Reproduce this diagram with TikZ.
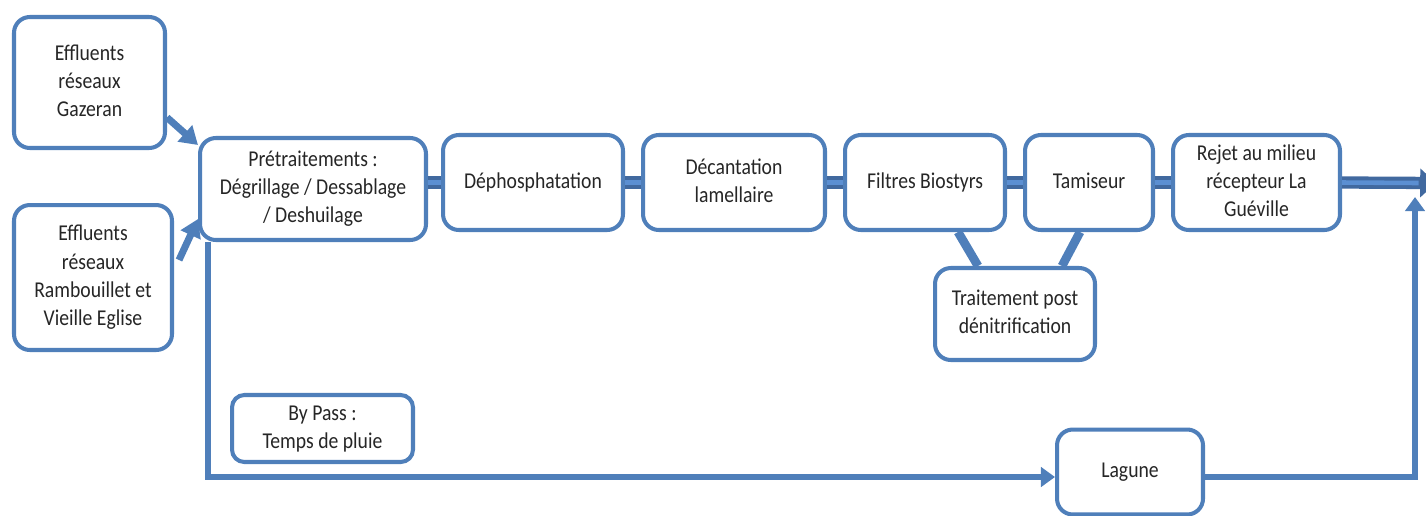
\documentclass[tikz,border=0pt]{standalone}
\usepackage{fontspec}
\setmainfont{Carlito}
\usetikzlibrary{arrows.meta,calc}
\definecolor{bord}{HTML}{4F7FBA}
\definecolor{banddark}{HTML}{41699F}
\definecolor{bandlight}{HTML}{5B8FD2}
\definecolor{txt}{HTML}{262626}
\newcommand\tx[1]{\scalebox{1}[1.15]{\begin{tabular}{@{}c@{}}#1\end{tabular}}}
\tikzset{
  box/.style={draw=bord, line width=2.3pt, rounded corners=9pt, fill=white, align=center,
    text=txt, font=\fontsize{11.2}{13.9}\selectfont, inner sep=2pt},
  band/.style={draw=banddark, line width=7pt},
  bandin/.style={draw=bandlight, line width=2.6pt},
  link/.style={draw=bord, line width=5pt},
  flow/.style={draw=bord, line width=3.4pt, -{Triangle[width=11pt,length=8pt]}},
  inarr/.style={draw=bord, line width=4pt, -{Triangle[width=12pt,length=10pt]}}
}
\begin{document}
\begin{tikzpicture}[x=0.02cm,y=-0.02cm]
\useasboundingbox (0,0) rectangle (1426,515);
% nodes
\node[box, minimum width=3.02cm, minimum height=2.62cm] (gaz) at (89.5,82.5) {\tx{Effluents\\réseaux\\Gazeran}};
\node[box, minimum width=3.16cm, minimum height=2.90cm] (ram) at (93,277.5) {\tx{Effluents\\réseaux\\Rambouillet et\\Vieille Eglise}};
\node[box, minimum width=4.52cm, minimum height=2.04cm] (pre) at (313,189) {\tx{Prétraitements :\\Dégrillage / Dessablage\\/ Deshuilage}};
\node[box, minimum width=3.6cm, minimum height=1.9cm] (dep) at (533,182.5) {\tx{Déphosphatation}};
\node[box, minimum width=3.64cm, minimum height=1.9cm] (dec) at (734,182.5) {\tx{Décantation\\lamellaire}};
\node[box, minimum width=3.2cm, minimum height=1.9cm] (fil) at (925,182.5) {\tx{Filtres Biostyrs}};
\node[box, minimum width=2.56cm, minimum height=1.9cm] (tam) at (1089,182.5) {\tx{Tamiseur}};
\node[box, minimum width=3.34cm, minimum height=1.9cm] (rej) at (1256.5,182.5) {\tx{Rejet au milieu\\récepteur La\\Guéville}};
\node[box, minimum width=3.2cm, minimum height=1.84cm] (trt) at (1015,314) {\tx{Traitement post\\dénitrification}};
\node[box, minimum width=3.62cm, minimum height=1.34cm, rounded corners=7pt] (byp) at (322.5,428.5) {\tx{By Pass :\\Temps de pluie}};
\node[box, minimum width=2.92cm, minimum height=1.70cm] (lag) at (1130,472) {\tx{Lagune}};
\coordinate (outend) at (1436,183);
\coordinate (upend) at (1415,197);
% main bands
\foreach \a/\b in {pre/dep,dep/dec,dec/fil,fil/tam,tam/rej}{
  \draw[band] (\a.east |- \b.west) -- (\b.west);
  \draw[bandin] (\a.east |- \b.west) -- (\b.west);
}
\draw[band, -{Triangle[width=16pt,length=9pt]}] (rej.east) -- (outend);
\draw[bandin] (rej.east) -- ([xshift=-0.35cm]outend);
% links to post-denitrification
\draw[link] ([xshift=0.66cm]fil.south) -- ([xshift=-0.74cm]trt.north);
\draw[link] ([xshift=-0.18cm]tam.south) -- ([xshift=0.94cm]trt.north);
% inputs
\draw[inarr] ([yshift=-0.7cm]gaz.east) -- ([yshift=0.88cm]pre.west);
\draw[inarr] ([xshift=0.1cm,yshift=0.35cm]ram.east) -- ([yshift=-0.6cm]pre.west);
% bypass
\draw[flow] ([xshift=-2.1cm]pre.south) |- ([yshift=-0.1cm]lag.west);
\draw[flow] ([yshift=-0.1cm]lag.east) -| (upend);
\end{tikzpicture}
\end{document}
